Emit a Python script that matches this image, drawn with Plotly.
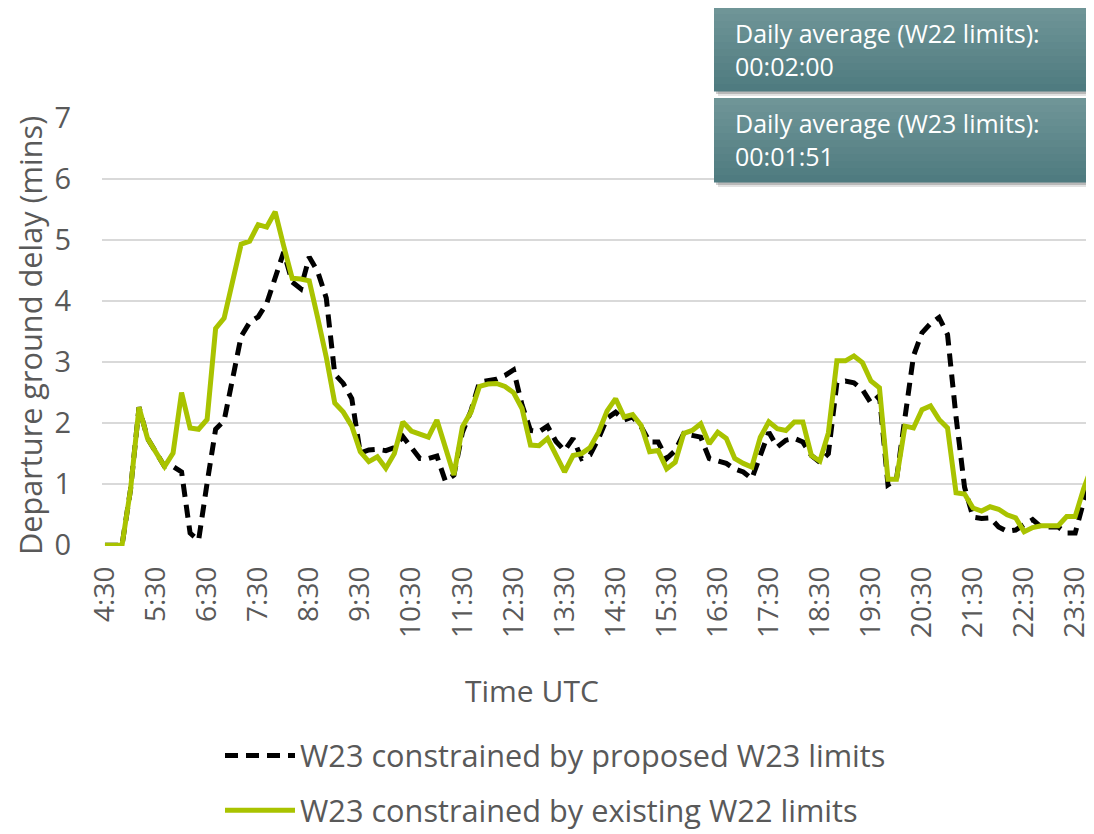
import plotly.graph_objects as go

# ---------------- data ----------------
start_h, start_m, n_pts = 4, 30, 117
times = []
for k in range(n_pts):
    tot = start_h * 60 + start_m + 10 * k
    times.append(f"{tot // 60}:{tot % 60:02d}")

tick_labels = ["4:30", "5:30", "6:30", "7:30", "8:30", "9:30", "10:30", "11:30",
               "12:30", "13:30", "14:30", "15:30", "16:30", "17:30", "18:30",
               "19:30", "20:30", "21:30", "22:30", "23:30"]

w23_limits = [
    0, 0, 0, 0.91, 2.26, 1.75, 1.5, 1.29, 1.29, 1.2,
    0.2, 0.08, 1.02, 1.9, 2.04, 2.72, 3.42, 3.65, 3.74, 3.96,
    4.39, 4.8, 4.31, 4.2, 4.72, 4.48, 4.05, 2.8, 2.65, 2.4,
    1.51, 1.56, 1.57, 1.55, 1.6, 1.78, 1.6, 1.42, 1.42, 1.46,
    1.05, 1.15, 1.85, 2.2, 2.67, 2.7, 2.72, 2.78, 2.87, 2.3,
    1.88, 1.86, 1.95, 1.7, 1.55, 1.75, 1.42, 1.48, 1.75, 2.08,
    2.18, 2.05, 2.1, 1.94, 1.69, 1.69, 1.42, 1.55, 1.83, 1.8,
    1.77, 1.42, 1.39, 1.34, 1.25, 1.2, 1.09, 1.5, 1.85, 1.61,
    1.72, 1.75, 1.69, 1.47, 1.36, 1.5, 2.66, 2.69, 2.66, 2.55,
    2.33, 2.45, 0.99, 1.08, 2.11, 3.1, 3.48, 3.63, 3.73, 3.45,
    2.1, 0.95, 0.46, 0.44, 0.45, 0.3, 0.23, 0.25, 0.34, 0.42,
    0.3, 0.3, 0.3, 0.2, 0.2, 0.72, 1.1,
]

w22_limits = [
    0, 0, 0, 0.91, 2.26, 1.75, 1.5, 1.29, 1.51, 2.5,
    1.92, 1.9, 2.06, 3.55, 3.72, 4.3, 4.93, 4.98, 5.25, 5.21,
    5.46, 4.9, 4.37, 4.36, 4.33, 3.72, 3.08, 2.33, 2.18, 1.95,
    1.53, 1.37, 1.45, 1.26, 1.5, 2.02, 1.87, 1.82, 1.77, 2.05,
    1.6, 1.15, 1.94, 2.18, 2.6, 2.64, 2.65, 2.6, 2.5, 2.24,
    1.64, 1.63, 1.75, 1.48, 1.2, 1.47, 1.5, 1.6, 1.85, 2.2,
    2.4, 2.1, 2.14, 1.96, 1.53, 1.55, 1.25, 1.36, 1.83, 1.88,
    1.99, 1.66, 1.85, 1.75, 1.42, 1.34, 1.28, 1.77, 2.02, 1.91,
    1.88, 2.02, 2.02, 1.47, 1.38, 1.84, 3.02, 3.02, 3.1, 2.99,
    2.69, 2.58, 1.08, 1.08, 1.95, 1.92, 2.22, 2.28, 2.06, 1.92,
    0.86, 0.84, 0.61, 0.56, 0.63, 0.59, 0.5, 0.45, 0.22, 0.29,
    0.32, 0.32, 0.32, 0.47, 0.47, 0.93, 1.3,
]

series_names = ["W23 constrained by proposed W23 limits",
                "W23 constrained by existing W22 limits"]
box_texts = ["Daily average (W22 limits):<br>00:02:00",
             "Daily average (W23 limits):<br>00:01:51"]
x_title = "Time UTC"
y_title = "Departure ground delay (mins)"

# ---------------- styling ----------------
OFF = 8                      # page body margin offset
W, H = 1094 - OFF, 834 - OFF
ML, MR, MT = 102 - OFF, 8, 117 - OFF
MB = H - (546 - OFF)
PW, PH = W - ML - MR, H - MT - MB
FONT = "Open Sans, Segoe UI, sans-serif"
GREY = "#595959"
GREEN = "#A9C300"


def px_x(px):
    """reference screen px -> paper x"""
    return (px - OFF - ML) / PW


def px_y(py):
    """reference screen px -> paper y"""
    return (H - MB - (py - OFF)) / PH


fig = go.Figure()
fig.add_trace(go.Scatter(
    x=times, y=w23_limits, mode="lines", name=series_names[0],
    legendgroup="a",
    line=dict(color="black", width=5, dash="13px,8px"),
))
fig.add_trace(go.Scatter(
    x=times, y=w22_limits, mode="lines", name=series_names[1],
    legendgroup="b",
    line=dict(color=GREEN, width=5),
))

shapes = []
annotations = []
top_c = (112, 150, 152)
bot_c = (78, 122, 127)
for bi, (ytop, ybot) in enumerate([(7, 91), (98, 182)]):
    # soft shadow
    for off, op in [(5, 0.15), (3, 0.25)]:
        shapes.append(dict(type="rect", xref="paper", yref="paper",
                           x0=px_x(714 + off - 1), x1=px_x(1110),
                           y0=px_y(ybot + off), y1=px_y(ytop + off),
                           fillcolor=f"rgba(60,60,60,{op})", line=dict(width=0),
                           layer="above"))
    nb = 12
    for s in range(nb):
        t = (s + 0.5) / nb
        c = tuple(int(round(top_c[j] + (bot_c[j] - top_c[j]) * t)) for j in range(3))
        y0p = ytop + (ybot - ytop) * s / nb
        y1p = ytop + (ybot - ytop) * (s + 1) / nb
        shapes.append(dict(type="rect", xref="paper", yref="paper",
                           x0=px_x(714), x1=px_x(1110),
                           y0=px_y(y1p + 0.5), y1=px_y(y0p),
                           fillcolor=f"rgb{c}", line=dict(width=0),
                           layer="above"))
    annotations.append(dict(
        xref="paper", yref="paper", x=px_x(733), y=px_y((ytop + ybot) / 2),
        xanchor="left", yanchor="middle", align="left", showarrow=False,
        text=box_texts[bi], font=dict(family=FONT, size=25, color="white"),
    ))

# axis titles
annotations.append(dict(
    xref="paper", yref="paper", x=px_x(532), y=px_y(690),
    xanchor="center", yanchor="middle", showarrow=False,
    text=x_title, font=dict(family=FONT, size=30, color=GREY),
))
annotations.append(dict(
    xref="paper", yref="paper", x=px_x(30), y=px_y(336),
    xanchor="center", yanchor="middle", showarrow=False, textangle=-90,
    text=y_title, font=dict(family=FONT, size=30.7, color=GREY),
))

fig.update_layout(
    width=W, height=H,
    margin=dict(l=ML, r=MR, t=MT, b=MB, pad=0, autoexpand=False),
    paper_bgcolor="white", plot_bgcolor="white",
    font=dict(family=FONT, color=GREY),
    shapes=shapes, annotations=annotations,
    showlegend=True,
    legend=dict(
        xref="container", yref="container",
        x=(220 - OFF) / W, y=1 - (729 - OFF) / H, xanchor="left", yanchor="top",
        orientation="v", itemwidth=70, tracegroupgap=12,
        font=dict(family=FONT, size=30.7, color=GREY),
        bgcolor="rgba(0,0,0,0)",
    ),
    xaxis=dict(
        type="category",
        range=[-0.35, 115.27],
        tickmode="array", tickvals=tick_labels, ticktext=tick_labels,
        tickangle=-90, showgrid=False, zeroline=False, showline=False,
        ticks="", ticklabelstandoff=14,
        tickfont=dict(family=FONT, size=28, color=GREY),
    ),
    yaxis=dict(
        range=[-0.012, 7.012], dtick=1, tick0=0,
        showgrid=True, gridcolor="#D9D9D9", gridwidth=1.5,
        zeroline=False, showline=False, ticks="",
        ticklabelstandoff=30,
        tickfont=dict(family=FONT, size=29, color=GREY),
    ),
)

fig.write_html("out.html")
